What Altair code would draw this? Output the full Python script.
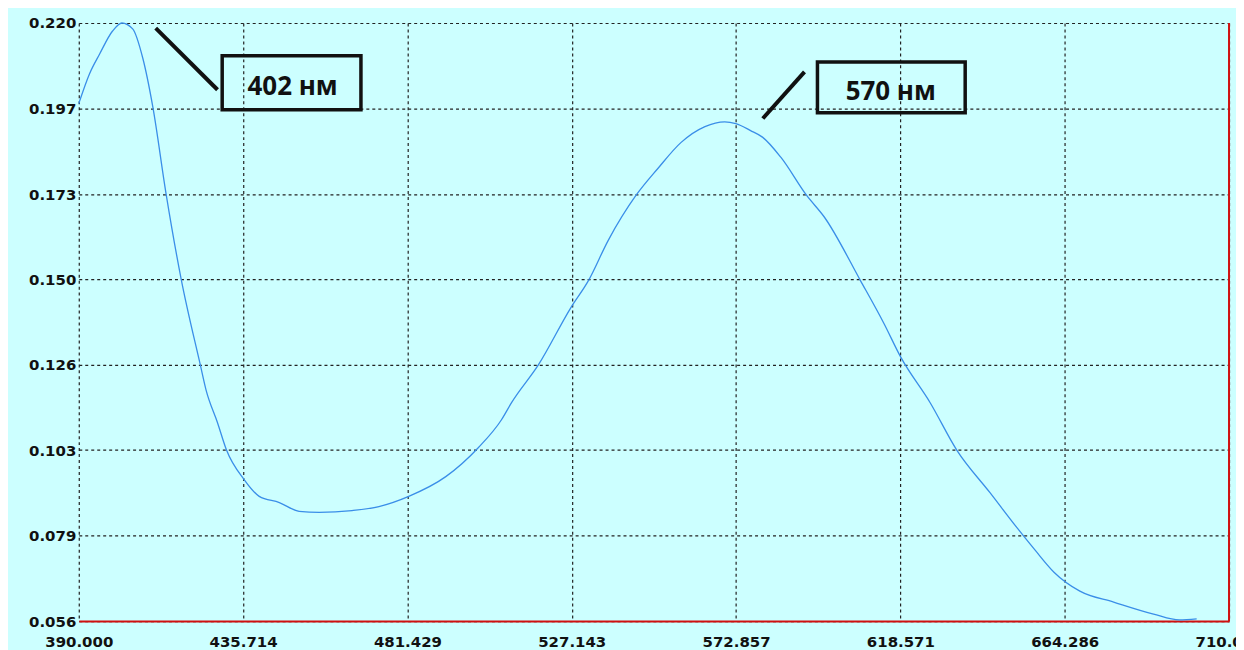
import altair as alt
import pandas as pd

# Spectrum
wavelength = [390.0, 393.0, 395.8, 399.4, 402.0, 405.0, 407.8, 410.6, 414.3, 418.5,
              423.8, 425.4, 428.6, 431.1, 436.0, 440.2, 445.8, 451.3, 456.9, 466.0,
              473.5, 481.8, 492.1, 501.2, 507.6, 510.4, 517.9, 527.0, 531.7, 537.3,
              545.0, 551.1, 557.5, 564.2, 569.7, 572.8, 576.9, 580.2, 585.3, 592.5,
              597.4, 607.5, 614.0, 618.6, 626.9, 634.3, 643.5, 651.0, 656.0, 661.3,
              668.5, 677.9, 689.0, 696.2, 701.0]
absorbance = [0.1979, 0.2061, 0.2115, 0.2178, 0.2200, 0.2184, 0.2104, 0.1970, 0.1731, 0.1497,
              0.1263, 0.1194, 0.1104, 0.1029, 0.0948, 0.0902, 0.0885, 0.0861, 0.0858, 0.0863,
              0.0874, 0.0902, 0.0956, 0.1036, 0.1112, 0.1159, 0.1263, 0.1421, 0.1492, 0.1604,
              0.1727, 0.1801, 0.1872, 0.1916, 0.1929, 0.1924, 0.1905, 0.1887, 0.1832, 0.1727,
              0.1668, 0.1493, 0.1376, 0.1285, 0.1158, 0.1028, 0.0912, 0.0816, 0.0755, 0.0694,
              0.0642, 0.0612, 0.0579, 0.0563, 0.0566]

x_ticks = [390.0, 435.714, 481.429, 527.143, 572.857, 618.571, 664.286, 710.0]
y_ticks = [0.056, 0.0794, 0.1029, 0.1263, 0.1497, 0.1731, 0.1966, 0.220]
x_domain = [390.0, 710.0]
y_domain = [0.056, 0.220]

# Annotations (data coordinates)
label_text = ["402 нм", "570 нм"]
label_x = [449.5, 615.9]
label_y = [0.2024, 0.2010]
box_x1 = [429.9, 595.5]
box_x2 = [468.5, 636.6]
box_y1 = [0.2110, 0.2093]
box_y2 = [0.1962, 0.1954]
lead_x1 = [411.4, 591.9]
lead_y1 = [0.2186, 0.2066]
lead_x2 = [428.6, 580.3]
lead_y2 = [0.2017, 0.1938]

spec = pd.DataFrame({"wl": wavelength, "A": absorbance})
ann = pd.DataFrame({"t": label_text, "tx": label_x, "ty": label_y,
                    "bx1": box_x1, "bx2": box_x2, "by1": box_y1, "by2": box_y2,
                    "lx1": lead_x1, "ly1": lead_y1, "lx2": lead_x2, "ly2": lead_y2})
edge = pd.DataFrame({"x": [x_domain[1]]})

xs = alt.Scale(domain=x_domain, nice=False, zero=False)
ys = alt.Scale(domain=y_domain, nice=False, zero=False)

lab = dict(labelFont="DejaVu Sans", labelFontWeight="bold", labelFontSize=15,
           labelColor="#111111", ticks=False, grid=True, gridColor="#222222",
           gridDash=[3, 3], gridWidth=1.2, title=None, labelOverlap=False,
           labelFlush=False, labelBound=False)

xaxis = alt.Axis(values=x_ticks, format=".3f", labelPadding=14,
                 domain=True, domainColor="#d01010", domainWidth=2, **lab)
yaxis = alt.Axis(values=y_ticks, format=".3f", labelPadding=3, domain=False, **lab)

line = alt.Chart(spec).mark_line(color="#3a8ee8", strokeWidth=1.3, interpolate="monotone").encode(
    x=alt.X("wl:Q", scale=xs, axis=xaxis),
    y=alt.Y("A:Q", scale=ys, axis=yaxis),
)

right_edge = alt.Chart(edge).mark_rule(color="#d01010", strokeWidth=2).encode(
    x=alt.X("x:Q", scale=xs)
)

boxes = alt.Chart(ann).mark_rect(fill=None, fillOpacity=0, stroke="#111111", strokeWidth=3.5).encode(
    x=alt.X("bx1:Q", scale=xs), x2="bx2:Q",
    y=alt.Y("by1:Q", scale=ys), y2="by2:Q",
)

leads = alt.Chart(ann).mark_rule(color="#111111", strokeWidth=4).encode(
    x=alt.X("lx1:Q", scale=xs), x2="lx2:Q",
    y=alt.Y("ly1:Q", scale=ys), y2="ly2:Q",
)

texts = alt.Chart(ann).mark_text(font="Open Sans", fontWeight="bold", fontSize=26,
                                  color="#111111", align="center", baseline="middle").encode(
    x=alt.X("tx:Q", scale=xs), y=alt.Y("ty:Q", scale=ys), text="t:N"
)

chart = alt.layer(line, right_edge, boxes, leads, texts).properties(
    width=1154, height=600,
    autosize=alt.AutoSizeParams(type="none"),
    padding={"left": 71, "top": 14, "right": 7, "bottom": 28},
    background="#ccffff",
).configure_view(fill="#ccffff", stroke=None)

chart.save("out.html", embed_options={"renderer": "svg", "actions": False})
